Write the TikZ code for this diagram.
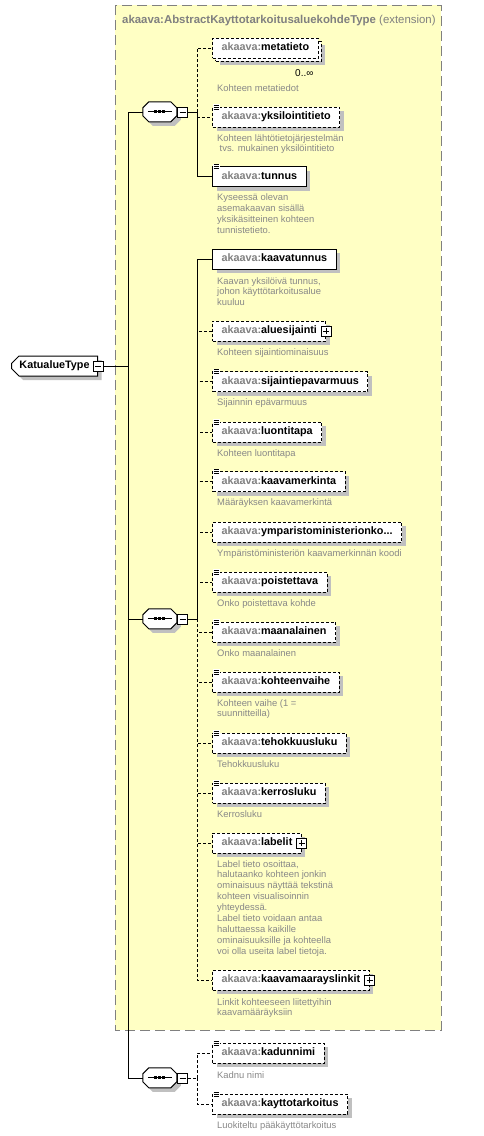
\documentclass[tikz,border=0pt]{standalone}
\usepackage{fontspec}
\setmainfont{Liberation Sans}
\usepackage{xcolor}
\usepackage{tikz}
\usetikzlibrary{shapes.misc, shadows, positioning}

\definecolor{schemayellow}{RGB}{255,255,196}
\definecolor{framegray}{RGB}{128,128,128}
\definecolor{prefixgray}{RGB}{128,128,128}
\definecolor{descgray}{RGB}{136,136,136}
\definecolor{shadowgray}{RGB}{192,192,192}

\newcommand{\ak}[1]{\textcolor{prefixgray}{akaava:}#1}
% three little bars on simple content elements
\newcommand{\simplemark}[1]{%
  \fill[white, shift={(#1.north west)}] (0.5,-2.5) rectangle (8,3.5);
  \draw[line width=0.8pt, shift={(#1.north west)}] (1.5,-1.5) -- (7,-1.5) (1.5,0.5) -- (7,0.5) (1.5,2.5) -- (7,2.5);}
% octagon of a sequence compositor, drawn round its node
\newcommand{\seqshape}[1]{%
  \begin{scope}[shift={(#1.north west)}]
    \fill[shadowgray] (10,4) -- (32,4) -- (38,10) -- (38,18) -- (32,24) -- (10,24) -- (4,18) -- (4,10) -- cycle;
    \draw[line width=1pt, fill=white] (6,0) -- (28,0) -- (34,6) -- (34,14) -- (28,20) -- (6,20) -- (0,14) -- (0,6) -- cycle;
    \draw[line width=1pt] (5,10) -- (29,10);
    \foreach \d in {13,17,21} \fill (\d-1.6,8.4) rectangle (\d+1.6,11.6);
  \end{scope}}

\begin{document}
\begin{tikzpicture}[x=1pt, y=-1pt,
    shadowed/.style={drop shadow={shadow xshift=4pt, shadow yshift=-4pt, fill=shadowgray, opacity=1}},
    elem/.style={draw, line width=1pt, fill=white, anchor=west, minimum height=20pt, inner xsep=9pt, inner ysep=0pt,
        text height=8pt, text depth=2.5pt, font=\fontsize{10.8}{13}\selectfont\bfseries},
    opt/.style={dash pattern=on 3pt off 2pt},
    desc/.style={anchor=north west, inner sep=0pt, align=left, text=descgray,
        font=\fontsize{9.4}{10.9}\selectfont, execute at begin node={\rule{0pt}{7pt}}},
    minus/.style={draw, fill=white, line width=1pt, minimum size=10pt, inner sep=0pt,
        path picture={\draw[line width=1pt] ([xshift=2pt]path picture bounding box.west) -- ([xshift=-2pt]path picture bounding box.east);}},
    plus/.style={draw, fill=white, line width=1pt, minimum size=10pt, inner sep=0pt,
        path picture={\draw[line width=1pt] ([xshift=2pt]path picture bounding box.west) -- ([xshift=-2pt]path picture bounding box.east)
            ([yshift=2pt]path picture bounding box.south) -- ([yshift=-2pt]path picture bounding box.north);}},
    seqbox/.style={minimum width=34pt, minimum height=20pt, inner sep=0pt},
    rootbox/.style={chamfered rectangle, chamfered rectangle corners={north west, south west}, chamfered rectangle xsep=4pt,
        draw, fill=white, line width=1pt, anchor=west, minimum height=20pt, inner xsep=4pt, inner ysep=0pt,
        text height=8pt, text depth=2.5pt, shadowed, font=\fontsize{10.8}{13}\selectfont\bfseries},
    frame/.style={draw=framegray, fill=schemayellow, line width=1pt, dash pattern=on 10pt off 5pt},
    conn/.style={line width=1pt},
    optconn/.style={conn, dash pattern=on 3pt off 2pt}
]
\fill[white] (0,0) rectangle (484,1136);
\useasboundingbox (0,0) rectangle (484,1136);

% extension base type
\draw[frame] (115,5) rectangle (441,1030);
\node[anchor=base west, inner sep=0pt, text=framegray, font=\fontsize{11.4}{13}\selectfont] (basetype) at (122,23)
    {\textbf{akaava:AbstractKayttotarkoitusaluekohdeType} (extension)};

% root type
\node[rootbox] (root) at (11,366) {KatualueType\hspace{9pt}};
\node[minus] (rootm) at (root.east) {};

% sequences
\node[seqbox] (seqa) at (160,112) {};
\seqshape{seqa}
\node[minus, anchor=west] (seqam) at (seqa.east) {};
\node[seqbox] (seqb) at (160,619) {};
\seqshape{seqb}
\node[minus, anchor=west] (seqbm) at (seqb.east) {};
\node[seqbox] (seqc) at (160,1078) {};
\seqshape{seqc}
\node[minus, anchor=west] (seqcm) at (seqc.east) {};

% first sequence
\node[elem, opt, shadowed] (metaback) at (215,51) {\phantom{\ak{metatieto}}};
\node[elem, opt] (metatieto) at (212,48) {\ak{metatieto}};
\node[anchor=base west, inner sep=0pt, font=\fontsize{10}{11}\selectfont] (metaocc) at (295,76) {0..∞};
\node[desc] (metatietod) at (217,84) {Kohteen metatiedot};

\node[elem, opt, shadowed] (yksilointitieto) at (212,117) {\ak{yksilointitieto}};
\simplemark{yksilointitieto}
\node[desc] (yksilointitietod) at (217,134) {Kohteen lähtötietojärjestelmän\\\hspace{2.5pt}tvs. mukainen yksilöintitieto};

\node[elem, shadowed] (tunnus) at (212,176.5) {\ak{tunnus}};
\simplemark{tunnus}
\node[desc] (tunnusd) at (217,193.5) {Kyseessä olevan\\asemakaavan sisällä\\yksikäsitteinen kohteen\\tunnistetieto.};

% second sequence
\node[elem, shadowed] (kaavatunnus) at (212,259) {\ak{kaavatunnus}};
\node[desc] (kaavatunnusd) at (217,277) {Kaavan yksilöivä tunnus,\\johon käyttötarkoitusalue\\kuuluu};

\node[elem, opt, shadowed] (aluesijainti) at (212,331) {\ak{aluesijainti}\hspace{4pt}};
\node[plus] (aluesijaintip) at (aluesijainti.east) {};
\node[desc] (aluesijaintid) at (217,348) {Kohteen sijaintiominaisuus};

\node[elem, opt, shadowed] (sijaintiepavarmuus) at (212,381.5) {\ak{sijaintiepavarmuus}};
\simplemark{sijaintiepavarmuus}
\node[desc] (sijaintiepavarmuusd) at (217,398.5) {Sijainnin epävarmuus};

\node[elem, opt, shadowed] (luontitapa) at (212,432) {\ak{luontitapa}};
\simplemark{luontitapa}
\node[desc] (luontitapad) at (217,449) {Kohteen luontitapa};

\node[elem, opt, shadowed] (kaavamerkinta) at (212,481.5) {\ak{kaavamerkinta}};
\simplemark{kaavamerkinta}
\node[desc] (kaavamerkintad) at (217,498.5) {Määräyksen kaavamerkintä};

\node[elem, opt, shadowed] (ymkoodi) at (212,532) {\ak{ymparistoministerionko...}};
\node[desc] (ymkoodid) at (217,549) {Ympäristöministeriön kaavamerkinnän koodi};

\node[elem, opt, shadowed] (poistettava) at (212,582) {\ak{poistettava}};
\simplemark{poistettava}
\node[desc] (poistettavad) at (217,599) {Onko poistettava kohde};

\node[elem, opt, shadowed] (maanalainen) at (212,632) {\ak{maanalainen}};
\simplemark{maanalainen}
\node[desc] (maanalainend) at (217,649) {Onko maanalainen};

\node[elem, opt, shadowed] (kohteenvaihe) at (212,682) {\ak{kohteenvaihe}};
\simplemark{kohteenvaihe}
\node[desc] (kohteenvaihed) at (217,699) {Kohteen vaihe (1 =\\suunnitteilla)};

\node[elem, opt, shadowed] (tehokkuusluku) at (212,743) {\ak{tehokkuusluku}};
\simplemark{tehokkuusluku}
\node[desc] (tehokkuuslukud) at (217,760) {Tehokkuusluku};

\node[elem, opt, shadowed] (kerrosluku) at (212,793) {\ak{kerrosluku}};
\simplemark{kerrosluku}
\node[desc] (kerroslukud) at (217,810) {Kerrosluku};

\node[elem, opt, shadowed] (labelit) at (212,843) {\ak{labelit}\hspace{4pt}};
\node[plus] (labelitp) at (labelit.east) {};
\node[desc] (labelitd) at (217,860) {Label tieto osoittaa,\\halutaanko kohteen jonkin\\ominaisuus näyttää tekstinä\\kohteen visualisoinnin\\yhteydessä.\\Label tieto voidaan antaa\\haluttaessa kaikille\\ominaisuuksille ja kohteella\\voi olla useita label tietoja.};

\node[elem, opt, shadowed] (kaavamaarayslinkit) at (212,980) {\ak{kaavamaarayslinkit}\hspace{4pt}};
\node[plus] (kaavamaarayslinkitp) at (kaavamaarayslinkit.east) {};
\node[desc] (kaavamaarayslinkitd) at (217,998) {Linkit kohteeseen liitettyihin\\kaavamääräyksiin};

% third sequence
\node[elem, opt, shadowed] (kadunnimi) at (212,1053) {\ak{kadunnimi}};
\simplemark{kadunnimi}
\node[desc] (kadunnimid) at (217,1071) {Kadnu nimi};

\node[elem, opt, shadowed] (kayttotarkoitus) at (212,1104) {\ak{kayttotarkoitus}};
\simplemark{kayttotarkoitus}
\node[desc] (kayttotarkoitusd) at (217,1121) {Luokiteltu pääkäyttötarkoitus};

% connectors
\coordinate (bus) at (128,366);
\draw[conn] (rootm.east) -- (bus);
\draw[conn] (seqa.west) -| (bus);
\draw[conn] (seqb.west) -| (bus);
\draw[conn] (seqc.west) -| (bus);

\draw[conn] (seqam.east) -- ++(9,0) coordinate (ja);
\draw[optconn] (ja) |- (metatieto.west);
\draw[optconn] (ja) |- (yksilointitieto.west);
\draw[conn] (ja) |- (tunnus.west);

\draw[conn] (seqbm.east) -- ++(9,0) coordinate (jb);
\draw[conn] (jb) |- (kaavatunnus.west);
\foreach \e in {aluesijainti, sijaintiepavarmuus, luontitapa, kaavamerkinta, ymkoodi, poistettava,
    maanalainen, kohteenvaihe, tehokkuusluku, kerrosluku, labelit, kaavamaarayslinkit}
    \draw[optconn] (jb) |- (\e.west);

\draw[optconn] (seqcm.east) -- ++(9,0) coordinate (jc);
\draw[optconn] (jc) |- (kadunnimi.west);
\draw[optconn] (jc) |- (kayttotarkoitus.west);
\end{tikzpicture}
\end{document}
